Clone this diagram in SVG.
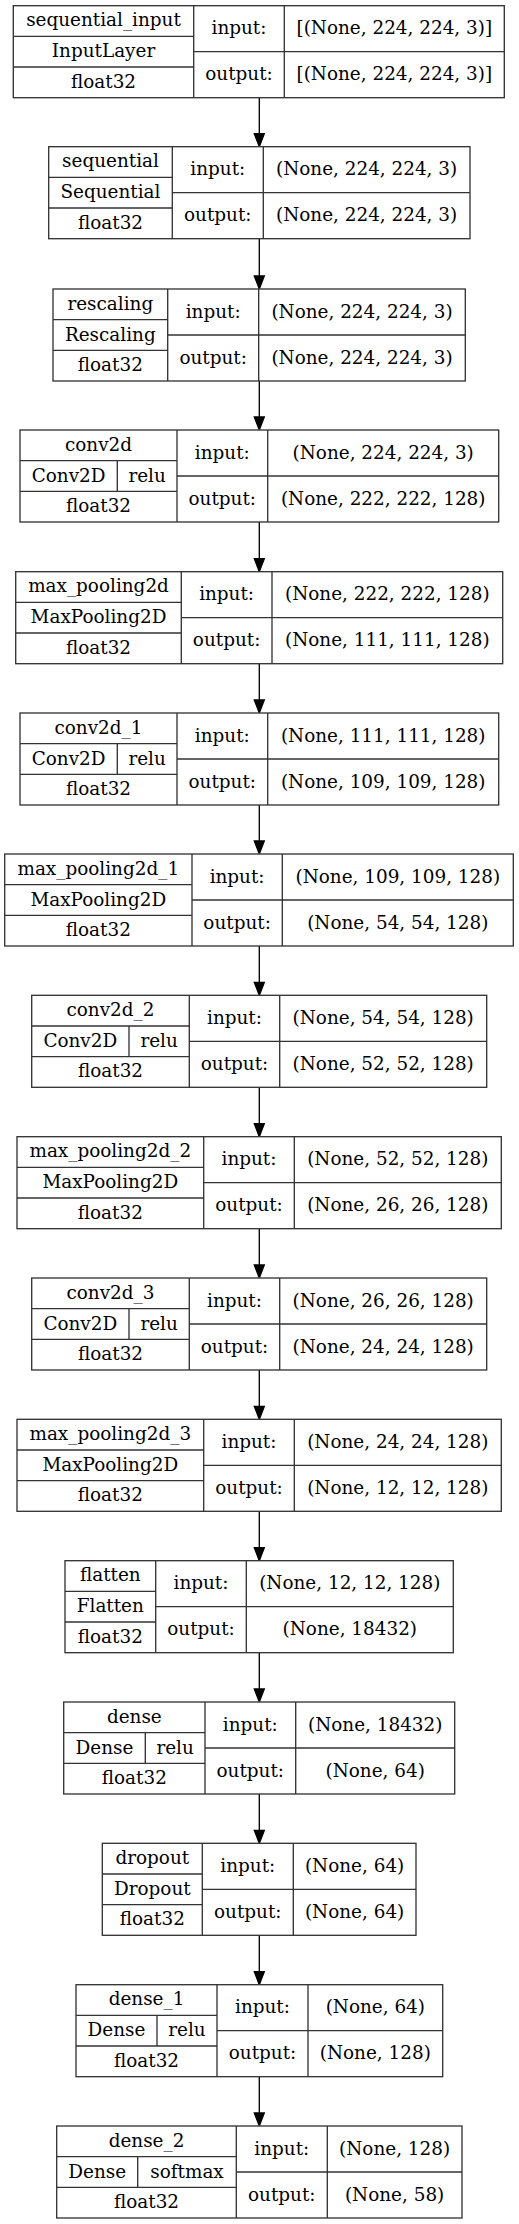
<svg xmlns="http://www.w3.org/2000/svg" width="519" height="2224" viewBox="0 0 519 2224">
<style>
.box{fill:#fff;stroke:#333;stroke-width:1.33}
.div{fill:none;stroke:#333;stroke-width:1.33}
text{font-family:"DejaVu Serif","Liberation Serif",serif;font-size:18.4px;fill:#000;text-anchor:middle}
.edge{stroke:#000;stroke-width:1.33;fill:none}
.head{fill:#000;stroke:#000;stroke-width:1.33}
</style>
<rect width="519" height="2224" fill="#fff"/>
<g id="edges">
<path class="edge" d="M259.3 97.7V133.7M259.3 238.7V276M259.3 380.3V417M259.3 521.7V558.7M259.3 663V700M259.3 804.7V841M259.3 946V982.3M259.3 1087V1123.7M259.3 1228.3V1265M259.3 1369.7V1406.3M259.3 1511V1547.7M259.3 1652.3V1689M259.3 1794V1830.3M259.3 1935.3V1971.7M259.3 2076.7V2113"/>
<polygon class="head" points="254.3,133.7 264.3,133.7 259.3,146.7"/>
<polygon class="head" points="254.3,276 264.3,276 259.3,289"/>
<polygon class="head" points="254.3,417 264.3,417 259.3,430"/>
<polygon class="head" points="254.3,558.7 264.3,558.7 259.3,571.7"/>
<polygon class="head" points="254.3,700 264.3,700 259.3,713"/>
<polygon class="head" points="254.3,841 264.3,841 259.3,854"/>
<polygon class="head" points="254.3,982.3 264.3,982.3 259.3,995.3"/>
<polygon class="head" points="254.3,1123.7 264.3,1123.7 259.3,1136.7"/>
<polygon class="head" points="254.3,1265 264.3,1265 259.3,1278"/>
<polygon class="head" points="254.3,1406.3 264.3,1406.3 259.3,1419.3"/>
<polygon class="head" points="254.3,1547.7 264.3,1547.7 259.3,1560.7"/>
<polygon class="head" points="254.3,1689 264.3,1689 259.3,1702"/>
<polygon class="head" points="254.3,1830.3 264.3,1830.3 259.3,1843.3"/>
<polygon class="head" points="254.3,1971.7 264.3,1971.7 259.3,1984.7"/>
<polygon class="head" points="254.3,2113 264.3,2113 259.3,2126"/>
</g>

<g id="node_sequential_input" transform="translate(0,5.7)">
<rect class="box" x="13.3" y="0" width="491" height="92"/>
<path class="div" d="M193.7 0V92M284.3 0V92M13.3 30.67H193.7M13.3 61.33H193.7M193.7 46H504.3"/>
<text x="103.5" y="20.8">sequential_input</text>
<text x="103.5" y="51.5">InputLayer</text>
<text x="103.5" y="82.2">float32</text>
<text x="239" y="28.5">input:</text>
<text x="239" y="74.5">output:</text>
<text x="394.3" y="28.5">[(None, 224, 224, 3)]</text>
<text x="394.3" y="74.5">[(None, 224, 224, 3)]</text>
</g>

<g id="node_sequential" transform="translate(0,146.7)">
<rect class="box" x="48.7" y="0" width="421.3" height="92"/>
<path class="div" d="M172.3 0V92M263.3 0V92M48.7 30.67H172.3M48.7 61.33H172.3M172.3 46H470"/>
<text x="110.5" y="20.8">sequential</text>
<text x="110.5" y="51.5">Sequential</text>
<text x="110.5" y="82.2">float32</text>
<text x="217.8" y="28.5">input:</text>
<text x="217.8" y="74.5">output:</text>
<text x="366.6" y="28.5">(None, 224, 224, 3)</text>
<text x="366.6" y="74.5">(None, 224, 224, 3)</text>
</g>

<g id="node_rescaling" transform="translate(0,289)">
<rect class="box" x="53" y="0" width="412.3" height="92"/>
<path class="div" d="M167.7 0V92M258.7 0V92M53 30.67H167.7M53 61.33H167.7M167.7 46H465.3"/>
<text x="110.3" y="20.8">rescaling</text>
<text x="110.3" y="51.5">Rescaling</text>
<text x="110.3" y="82.2">float32</text>
<text x="213.2" y="28.5">input:</text>
<text x="213.2" y="74.5">output:</text>
<text x="362" y="28.5">(None, 224, 224, 3)</text>
<text x="362" y="74.5">(None, 224, 224, 3)</text>
</g>

<g id="node_conv2d" transform="translate(0,430)">
<rect class="box" x="20" y="0" width="478.7" height="92"/>
<path class="div" d="M177 0V92M267.7 0V92M20 30.67H177M20 61.33H177M117.3 30.67V61.33M177 46H498.7"/>
<text x="98.5" y="20.8">conv2d</text>
<text x="68.6" y="51.5">Conv2D</text>
<text x="147.1" y="51.5">relu</text>
<text x="98.5" y="82.2">float32</text>
<text x="222.3" y="28.5">input:</text>
<text x="222.3" y="74.5">output:</text>
<text x="383.2" y="28.5">(None, 224, 224, 3)</text>
<text x="383.2" y="74.5">(None, 222, 222, 128)</text>
</g>

<g id="node_max_pooling2d" transform="translate(0,571.7)">
<rect class="box" x="15.7" y="0" width="487" height="92"/>
<path class="div" d="M181.3 0V92M272 0V92M15.7 30.67H181.3M15.7 61.33H181.3M181.3 46H502.7"/>
<text x="98.5" y="20.8">max_pooling2d</text>
<text x="98.5" y="51.5">MaxPooling2D</text>
<text x="98.5" y="82.2">float32</text>
<text x="226.6" y="28.5">input:</text>
<text x="226.6" y="74.5">output:</text>
<text x="387.3" y="28.5">(None, 222, 222, 128)</text>
<text x="387.3" y="74.5">(None, 111, 111, 128)</text>
</g>

<g id="node_conv2d_1" transform="translate(0,713)">
<rect class="box" x="20" y="0" width="478.7" height="92"/>
<path class="div" d="M177 0V92M267.7 0V92M20 30.67H177M20 61.33H177M117.3 30.67V61.33M177 46H498.7"/>
<text x="98.5" y="20.8">conv2d_1</text>
<text x="68.6" y="51.5">Conv2D</text>
<text x="147.1" y="51.5">relu</text>
<text x="98.5" y="82.2">float32</text>
<text x="222.3" y="28.5">input:</text>
<text x="222.3" y="74.5">output:</text>
<text x="383.2" y="28.5">(None, 111, 111, 128)</text>
<text x="383.2" y="74.5">(None, 109, 109, 128)</text>
</g>

<g id="node_max_pooling2d_1" transform="translate(0,854)">
<rect class="box" x="4.7" y="0" width="508.6" height="92"/>
<path class="div" d="M192 0V92M282.3 0V92M4.7 30.67H192M4.7 61.33H192M192 46H513.3"/>
<text x="98.3" y="20.8">max_pooling2d_1</text>
<text x="98.3" y="51.5">MaxPooling2D</text>
<text x="98.3" y="82.2">float32</text>
<text x="237.1" y="28.5">input:</text>
<text x="237.1" y="74.5">output:</text>
<text x="397.8" y="28.5">(None, 109, 109, 128)</text>
<text x="397.8" y="74.5">(None, 54, 54, 128)</text>
</g>

<g id="node_conv2d_2" transform="translate(0,995.3)">
<rect class="box" x="31.7" y="0" width="455" height="92"/>
<path class="div" d="M189.3 0V92M279.7 0V92M31.7 30.67H189.3M31.7 61.33H189.3M129 30.67V61.33M189.3 46H486.7"/>
<text x="110.5" y="20.8">conv2d_2</text>
<text x="80.3" y="51.5">Conv2D</text>
<text x="159.1" y="51.5">relu</text>
<text x="110.5" y="82.2">float32</text>
<text x="234.5" y="28.5">input:</text>
<text x="234.5" y="74.5">output:</text>
<text x="383.2" y="28.5">(None, 54, 54, 128)</text>
<text x="383.2" y="74.5">(None, 52, 52, 128)</text>
</g>

<g id="node_max_pooling2d_2" transform="translate(0,1136.7)">
<rect class="box" x="17" y="0" width="484.3" height="92"/>
<path class="div" d="M203.7 0V92M294.3 0V92M17 30.67H203.7M17 61.33H203.7M203.7 46H501.3"/>
<text x="110.3" y="20.8">max_pooling2d_2</text>
<text x="110.3" y="51.5">MaxPooling2D</text>
<text x="110.3" y="82.2">float32</text>
<text x="249" y="28.5">input:</text>
<text x="249" y="74.5">output:</text>
<text x="397.8" y="28.5">(None, 52, 52, 128)</text>
<text x="397.8" y="74.5">(None, 26, 26, 128)</text>
</g>

<g id="node_conv2d_3" transform="translate(0,1278)">
<rect class="box" x="31.7" y="0" width="455" height="92"/>
<path class="div" d="M189.3 0V92M279.7 0V92M31.7 30.67H189.3M31.7 61.33H189.3M129 30.67V61.33M189.3 46H486.7"/>
<text x="110.5" y="20.8">conv2d_3</text>
<text x="80.3" y="51.5">Conv2D</text>
<text x="159.1" y="51.5">relu</text>
<text x="110.5" y="82.2">float32</text>
<text x="234.5" y="28.5">input:</text>
<text x="234.5" y="74.5">output:</text>
<text x="383.2" y="28.5">(None, 26, 26, 128)</text>
<text x="383.2" y="74.5">(None, 24, 24, 128)</text>
</g>

<g id="node_max_pooling2d_3" transform="translate(0,1419.3)">
<rect class="box" x="17" y="0" width="484.3" height="92"/>
<path class="div" d="M203.7 0V92M294.3 0V92M17 30.67H203.7M17 61.33H203.7M203.7 46H501.3"/>
<text x="110.3" y="20.8">max_pooling2d_3</text>
<text x="110.3" y="51.5">MaxPooling2D</text>
<text x="110.3" y="82.2">float32</text>
<text x="249" y="28.5">input:</text>
<text x="249" y="74.5">output:</text>
<text x="397.8" y="28.5">(None, 24, 24, 128)</text>
<text x="397.8" y="74.5">(None, 12, 12, 128)</text>
</g>

<g id="node_flatten" transform="translate(0,1560.7)">
<rect class="box" x="65" y="0" width="388.3" height="92"/>
<path class="div" d="M155.7 0V92M246.3 0V92M65 30.67H155.7M65 61.33H155.7M155.7 46H453.3"/>
<text x="110.3" y="20.8">flatten</text>
<text x="110.3" y="51.5">Flatten</text>
<text x="110.3" y="82.2">float32</text>
<text x="201" y="28.5">input:</text>
<text x="201" y="74.5">output:</text>
<text x="349.8" y="28.5">(None, 12, 12, 128)</text>
<text x="349.8" y="74.5">(None, 18432)</text>
</g>

<g id="node_dense" transform="translate(0,1702)">
<rect class="box" x="63.7" y="0" width="391" height="92"/>
<path class="div" d="M205 0V92M295.7 0V92M63.7 30.67H205M63.7 61.33H205M145.3 30.67V61.33M205 46H454.7"/>
<text x="134.3" y="20.8">dense</text>
<text x="104.5" y="51.5">Dense</text>
<text x="175.1" y="51.5">relu</text>
<text x="134.3" y="82.2">float32</text>
<text x="250.3" y="28.5">input:</text>
<text x="250.3" y="74.5">output:</text>
<text x="375.2" y="28.5">(None, 18432)</text>
<text x="375.2" y="74.5">(None, 64)</text>
</g>

<g id="node_dropout" transform="translate(0,1843.3)">
<rect class="box" x="102.3" y="0" width="313.7" height="92"/>
<path class="div" d="M202.3 0V92M293.3 0V92M102.3 30.67H202.3M102.3 61.33H202.3M202.3 46H416"/>
<text x="152.3" y="20.8">dropout</text>
<text x="152.3" y="51.5">Dropout</text>
<text x="152.3" y="82.2">float32</text>
<text x="247.8" y="28.5">input:</text>
<text x="247.8" y="74.5">output:</text>
<text x="354.6" y="28.5">(None, 64)</text>
<text x="354.6" y="74.5">(None, 64)</text>
</g>

<g id="node_dense_1" transform="translate(0,1984.7)">
<rect class="box" x="76" y="0" width="366.7" height="92"/>
<path class="div" d="M217 0V92M308 0V92M76 30.67H217M76 61.33H217M157 30.67V61.33M217 46H442.7"/>
<text x="146.5" y="20.8">dense_1</text>
<text x="116.5" y="51.5">Dense</text>
<text x="187" y="51.5">relu</text>
<text x="146.5" y="82.2">float32</text>
<text x="262.5" y="28.5">input:</text>
<text x="262.5" y="74.5">output:</text>
<text x="375.3" y="28.5">(None, 64)</text>
<text x="375.3" y="74.5">(None, 128)</text>
</g>

<g id="node_dense_2" transform="translate(0,2126)">
<rect class="box" x="56.7" y="0" width="405.3" height="92"/>
<path class="div" d="M236.3 0V92M327.3 0V92M56.7 30.67H236.3M56.7 61.33H236.3M137.7 30.67V61.33M236.3 46H462"/>
<text x="146.5" y="20.8">dense_2</text>
<text x="97.2" y="51.5">Dense</text>
<text x="187" y="51.5">softmax</text>
<text x="146.5" y="82.2">float32</text>
<text x="281.8" y="28.5">input:</text>
<text x="281.8" y="74.5">output:</text>
<text x="394.6" y="28.5">(None, 128)</text>
<text x="394.6" y="74.5">(None, 58)</text>
</g>
</svg>
